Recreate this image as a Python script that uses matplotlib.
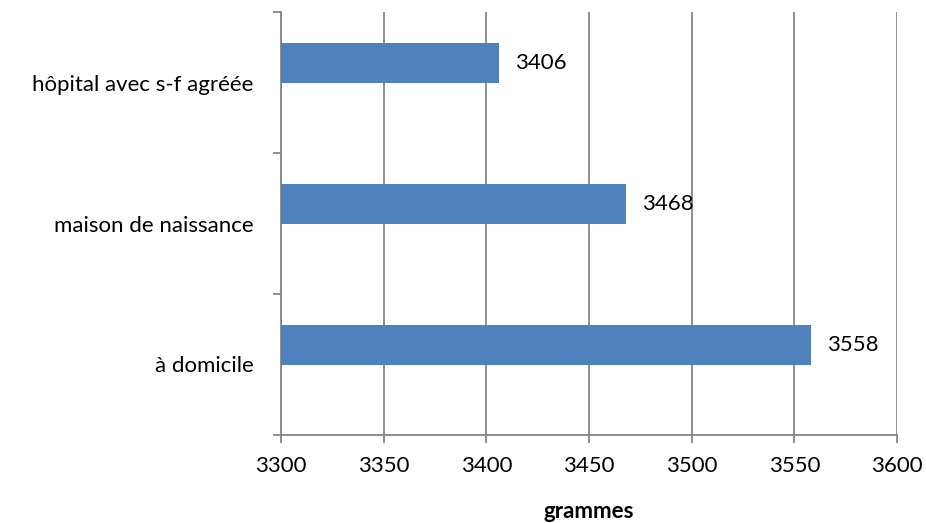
import numpy as np
import matplotlib.pyplot as plt

plt.rcParams['font.family'] = ['Lato', 'DejaVu Sans']

# poids moyen à la naissance selon le lieu d'accouchement
categories = ['à domicile', 'maison de naissance', 'hôpital avec s-f agréée']
poids = [3558, 3468, 3406]
xticks = [3300, 3350, 3400, 3450, 3500, 3550, 3600]

grid_col = '#868686'
fs = 16

fig = plt.figure(figsize=(9.26, 5.23), dpi=100)
ax = fig.add_axes([0.3035, 0.1683, 0.6652, 0.8087])

y = np.arange(len(categories))
# les barres sont décalées vers le haut dans chaque catégorie
yb = y + 0.14
bars = ax.barh(yb, poids, height=0.286, left=0, color='#4F81BD', zorder=3)

for yi, v in zip(yb, poids):
    ax.text(v + 8, yi, str(v), va='center', ha='left', fontsize=fs, zorder=4)

ax.set_xlim(3300, 3600)
ax.set_ylim(-0.5, len(categories) - 0.5)
ax.set_xticks(xticks)
ax.set_xticklabels([str(t) for t in xticks], fontsize=fs)
ax.set_yticks(y)
ax.set_yticklabels(categories, fontsize=fs)
ax.set_yticks(np.arange(-0.5, len(categories), 1.0), minor=True)

ax.tick_params(axis='y', which='major', length=0, pad=20)
ax.tick_params(axis='y', which='minor', length=6, width=1.3, color=grid_col, direction='out')
ax.tick_params(axis='x', length=6, width=1.3, color=grid_col, direction='out', pad=9)

ax.xaxis.grid(True, color=grid_col, linewidth=1.3, zorder=0)
ax.set_axisbelow(True)
for side in ['top', 'right']:
    ax.spines[side].set_visible(False)
for side in ['left', 'bottom']:
    ax.spines[side].set_color(grid_col)
    ax.spines[side].set_linewidth(1.3)

ax.set_xlabel('grammes', fontsize=fs, fontweight='bold', labelpad=18)

fig.savefig('out.png', dpi=100)
